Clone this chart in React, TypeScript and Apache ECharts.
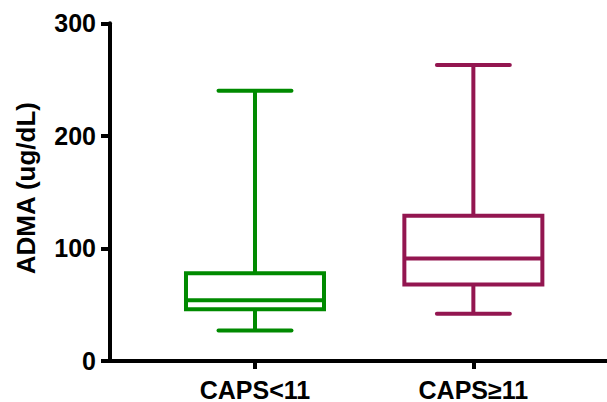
import React, { useEffect, useRef } from "react";
import * as echarts from "echarts";

const categories = ["CAPS<11", "CAPS≥11"];
const positions = [1, 2];
const mins = [27, 42];
const q1s = [46, 68];
const medians = [54, 91];
const q3s = [78, 129];
const maxs = [240, 263];
const colors = ["#008a00", "#931650"];
const yTicks = [0, 100, 200, 300];

export default function App() {
  const ref = useRef<HTMLDivElement>(null);
  useEffect(() => {
    if (!ref.current) return;
    const chart = echarts.init(ref.current, null, { renderer: "svg" });
    const data = positions.map((p, i) => [p, mins[i], q1s[i], medians[i], q3s[i], maxs[i], i]);
    const font = "'Liberation Sans', Arial, sans-serif";
    chart.setOption({
      animation: false,
      backgroundColor: "#ffffff",
      grid: { left: 110, right: 0, top: 23.3, bottom: 40.3 },
      xAxis: {
        type: "value",
        min: 0.336,
        max: 2.612,
        splitLine: { show: false },
        axisLine: { show: true, lineStyle: { color: "#000", width: 4 } },
        axisTick: { show: true, length: 8, lineStyle: { color: "#000", width: 4 }, customValues: positions },
        axisLabel: {
          customValues: positions,
          formatter: (v: number) => categories[positions.indexOf(Math.round(v))] ?? "",
          color: "#000",
          fontFamily: font,
          fontWeight: "bold",
          fontSize: 25,
          margin: 16,
        },
      },
      yAxis: {
        type: "value",
        min: 0,
        max: 300,
        interval: 100,
        splitLine: { show: false },
        axisLine: { show: true, lineStyle: { color: "#000", width: 4 } },
        axisTick: { show: true, length: 9, lineStyle: { color: "#000", width: 4 }, customValues: yTicks },
        axisLabel: {
          color: "#000",
          fontFamily: font,
          fontWeight: "bold",
          fontSize: 25,
          margin: 14,
        },
        name: "ADMA (ug/dL)",
        nameLocation: "middle",
        nameGap: 71,
        nameTextStyle: {
          color: "#000",
          fontFamily: font,
          fontWeight: "bold",
          fontSize: 26,
          padding: [0, 0, 0, 8],
        },
      },
      series: [
        {
          type: "custom",
          data,
          encode: { x: 0, y: [1, 2, 3, 4, 5] },
          renderItem: (params: any, api: any) => {
            const x = api.value(0);
            const idx = api.value(6);
            const color = colors[idx];
            const boxHalf = 0.316;
            const capHalf = 0.167;
            const c = api.coord([x, api.value(3)]);
            const xl = api.coord([x - boxHalf, 0])[0];
            const xr = api.coord([x + boxHalf, 0])[0];
            const cl = api.coord([x - capHalf, 0])[0];
            const cr = api.coord([x + capHalf, 0])[0];
            const yMin = api.coord([x, api.value(1)])[1];
            const yQ1 = api.coord([x, api.value(2)])[1];
            const yMed = c[1];
            const yQ3 = api.coord([x, api.value(4)])[1];
            const yMax = api.coord([x, api.value(5)])[1];
            const cx = c[0];
            const lineStyle = { stroke: color, lineWidth: 4, fill: null };
            const capStyle = { stroke: color, lineWidth: 4, lineCap: "round" };
            return {
              type: "group",
              children: [
                { type: "line", shape: { x1: cx, y1: yMax, x2: cx, y2: yQ3 }, style: lineStyle },
                { type: "line", shape: { x1: cx, y1: yQ1, x2: cx, y2: yMin }, style: lineStyle },
                { type: "line", shape: { x1: cl, y1: yMax, x2: cr, y2: yMax }, style: capStyle },
                { type: "line", shape: { x1: cl, y1: yMin, x2: cr, y2: yMin }, style: capStyle },
                {
                  type: "rect",
                  shape: { x: xl, y: yQ3, width: xr - xl, height: yQ1 - yQ3 },
                  style: { stroke: color, lineWidth: 4, fill: "#fff", lineJoin: "miter" },
                },
                { type: "line", shape: { x1: xl, y1: yMed, x2: xr, y2: yMed }, style: lineStyle },
              ],
            };
          },
        },
      ],
    });
    return () => chart.dispose();
  }, []);
  return (
    <div
      ref={ref}
      style={{ position: "fixed", left: 0, top: 0, width: 607, height: 402, background: "#fff" }}
    />
  );
}
